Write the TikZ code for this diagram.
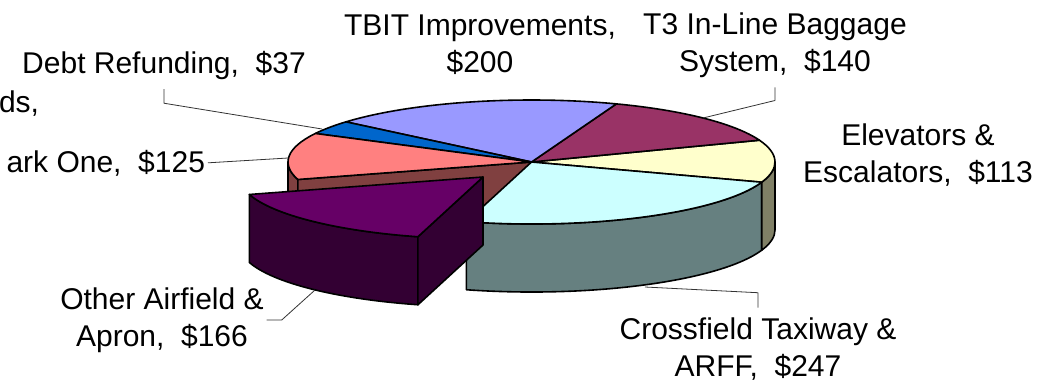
\documentclass[tikz,border=0pt]{standalone}
\usepackage{fontspec}
\setmainfont{Liberation Sans}
\usetikzlibrary{calc}
\definecolor{tbittop}{HTML}{9999FF}
\definecolor{bagtop}{HTML}{993366}
\definecolor{elevtop}{HTML}{FFFFCC}
\definecolor{elevside}{HTML}{808066}
\definecolor{crosstop}{HTML}{CCFFFF}
\definecolor{crossside}{HTML}{668080}
\definecolor{othertop}{HTML}{660066}
\definecolor{otherside}{HTML}{330033}
\definecolor{parktop}{HTML}{FF8080}
\definecolor{parkside}{HTML}{804040}
\definecolor{debttop}{HTML}{0066CC}
% slice top, outer wall and cut face of the 3d pie
\newcommand{\pietop}[4]{\filldraw[rim,fill=#4] (#1) -- ($(#1)+(#2:\rx pt and \ry pt)$) arc[start angle=#2,end angle=#3,x radius=\rx pt,y radius=\ry pt] -- cycle;}
\newcommand{\pieside}[4]{\filldraw[rim,fill=#4] ($(#1)+(#2:\rx pt and \ry pt)$) arc[start angle=#2,end angle=#3,x radius=\rx pt,y radius=\ry pt] -- ++(0,-\dep) arc[start angle=#3,end angle=#2,x radius=\rx pt,y radius=\ry pt] -- cycle;}
\newcommand{\piecut}[3]{\filldraw[rim,fill=#3] (#1) -- ($(#1)+(#2:\rx pt and \ry pt)$) -- ++(0,-\dep) -- ($(#1)+(0,-\dep)$) -- cycle;}

\begin{document}
\begin{tikzpicture}[x=1pt,y=1pt,line join=round]
    \tikzset{rim/.style={draw=black,line width=1.6pt}, lbl/.style={font=\fontsize{30}{37}\selectfont,align=center,inner sep=3pt,outer xsep=0pt,outer ysep=7pt}, leader/.style={draw=black!80,line width=0.8pt}}
    \useasboundingbox (0,-384) rectangle (1056,0);
    \def\rx{243.5}\def\ry{62}\def\dep{68}
    \coordinate (C) at (531.5,-162);
    % walls and the gap left by the pulled-out slice
    \pieside{C}{180}{196.37}{parkside}
    \piecut{C}{196.37}{parkside}
    \pieside{C}{254.5}{341}{crossside}
    \pieside{C}{341}{360}{elevside}
    % tops
    \pietop{C}{-19}{20.57}{elevtop}
    \pietop{C}{20.57}{69.6}{bagtop}
    \pietop{C}{69.6}{139.64}{tbittop}
    \pietop{C}{139.64}{152.6}{debttop}
    \pietop{C}{152.6}{196.37}{parktop}
    \pietop{C}{254.5}{341}{crosstop}
    % exploded slice
    \coordinate (V) at ($(C)+(-48.5,-15)$);
    \pieside{V}{196.37}{254.5}{otherside}
    \piecut{V}{254.5}{otherside}
    \pietop{V}{196.37}{254.5}{othertop}
    % labels
    \node[lbl] (tbit) at (480,-45) {TBIT Improvements,\\\$200};
    \node[lbl] (tthree) at (775,-45) {T3 In-Line Baggage\\System,\ \ \$140};
    \node[lbl] (elev) at (918,-155) {Elevators \&\\Escalators,\ \ \$113};
    \node[lbl] (cross) at (758,-349) {Crossfield Taxiway \&\\ARFF,\ \ \$247};
    \node[lbl] (other) at (162,-320) {Other Airfield \&\\Apron,\ \ \$166};
    \node[lbl,anchor=base] (debt) at (164,-73) {Debt Refunding,\ \ \$37};
    \node[lbl,anchor=base west,inner sep=0pt] (parkhead) at (-1,-112) {ds,};
    \node[lbl,anchor=base east] (park) at (208,-172) {ark One,\ \ \$125};
    % leader lines
    \coordinate (debtpt) at (322,-129);
    \coordinate (tthreept) at (703,-118);
    \coordinate (crosspt) at (645,-287);
    \coordinate (otherpt) at (315,-290);
    \coordinate (parkpt) at (288,-158);
    \draw[leader] (debt.south) -- ++(0,-14) -- (debtpt);
    \draw[leader] (tthree.south) -- ++(0,-13) -- (tthreept);
    \draw[leader] (cross.north) -- ++(0,15) -- (crosspt);
    \draw[leader] (other.east) -- ++(15,0) -- (otherpt);
    \draw[leader] (park.east) -- (parkpt);
  \end{tikzpicture}
\end{document}
